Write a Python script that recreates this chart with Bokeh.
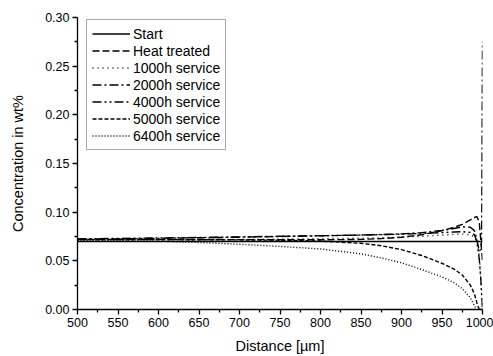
from bokeh.plotting import figure
from bokeh.models import Range1d, FixedTicker, NumeralTickFormatter, Legend, LegendItem
from bokeh.embed import file_html
from bokeh.resources import INLINE

distance = [500, 550, 600, 650, 700, 750, 800, 850, 875, 900, 925, 950, 965, 975, 985, 990, 993, 996, 998, 999, 1000]

start = [0.0698, 0.0698, 0.0698, 0.0698, 0.0698, 0.0698, 0.0698, 0.0698, 0.0698, 0.0698,
         0.0698, 0.0698, 0.0698, 0.0698, 0.0698, 0.0698, 0.0698, 0.0698, 0.0698, 0.0698, 0.0698]
heat_treated = [0.0720, 0.0720, 0.0720, 0.0719, 0.0718, 0.0717, 0.0716, 0.0720, 0.0728, 0.0742,
                0.0768, 0.0810, 0.0845, 0.0875, 0.0920, 0.0945, 0.0955, 0.0900, 0.0700, 0.0600, 0.0500]
s1000 = [0.0712, 0.0714, 0.0716, 0.0718, 0.0720, 0.0723, 0.0727, 0.0733, 0.0737, 0.0743,
         0.0752, 0.0765, 0.0772, 0.0775, 0.0768, 0.0745, 0.0700, 0.0550, 0.0300, 0.0150, 0.0000]
s2000 = [0.0722, 0.0726, 0.0731, 0.0737, 0.0743, 0.0750, 0.0757, 0.0765, 0.0770, 0.0777,
         0.0790, 0.0812, 0.0832, 0.0850, 0.0845, 0.0810, 0.0720, 0.0600, 0.0620, 0.0700, 0.2750]
s4000 = [0.0726, 0.0730, 0.0735, 0.0740, 0.0746, 0.0752, 0.0758, 0.0765, 0.0769, 0.0774,
         0.0781, 0.0790, 0.0796, 0.0800, 0.0792, 0.0770, 0.0700, 0.0520, 0.0300, 0.0150, 0.0000]
s5000 = [0.0718, 0.0718, 0.0718, 0.0717, 0.0715, 0.0712, 0.0703, 0.0680, 0.0655, 0.0615,
         0.0555, 0.0475, 0.0415, 0.0355, 0.0250, 0.0160, 0.0070, 0.0000, 0.0000, 0.0000, 0.0000]
s6400 = [0.0712, 0.0708, 0.0702, 0.0688, 0.0670, 0.0648, 0.0622, 0.0572, 0.0530, 0.0480,
         0.0410, 0.0335, 0.0275, 0.0215, 0.0120, 0.0040, 0.0000, 0.0000, 0.0000, 0.0000, 0.0000]

labels = ["Start", "Heat treated", "1000h service", "2000h service",
          "4000h service", "5000h service", "6400h service"]

x_ticks = [500, 550, 600, 650, 700, 750, 800, 850, 900, 950, 1000]
x_minor = [525, 575, 625, 675, 725, 775, 825, 875, 925, 975]
y_ticks = [0.0, 0.05, 0.10, 0.15, 0.20, 0.25, 0.30]
y_minor = [0.025, 0.075, 0.125, 0.175, 0.225, 0.275]

series = [start, heat_treated, s1000, s2000, s4000, s5000, s6400]
dashes = ["solid", "7 3", "1 4", "9 3 2 3", "9 3 2 3 2 3", "4 2", "1 2"]
widths = [1.6, 1.4, 1.4, 1.4, 1.4, 1.4, 1.4]

FONT = "Liberation Sans"

p = figure(width=493, height=356, output_backend="svg", toolbar_location=None,
           x_range=Range1d(500, 1000), y_range=Range1d(0, 0.30),
           min_border_left=77, min_border_right=11, min_border_top=17, min_border_bottom=44)
p.outline_line_color = None
p.grid.grid_line_color = None
p.background_fill_color = "white"
p.border_fill_color = "white"

renderers = []
for ys, dash, w in zip(series, dashes, widths):
    r = p.line(distance, ys, line_color="black", line_dash=dash, line_width=w)
    renderers.append(r)

p.xaxis.ticker = FixedTicker(ticks=x_ticks, minor_ticks=x_minor)
p.yaxis.ticker = FixedTicker(ticks=y_ticks, minor_ticks=y_minor)
p.yaxis.formatter = NumeralTickFormatter(format="0.00")

for ax in (p.xaxis[0], p.yaxis[0]):
    ax.axis_line_color = "black"
    ax.axis_line_width = 1.3
    ax.major_tick_line_color = "black"
    ax.minor_tick_line_color = "black"
    ax.major_tick_line_width = 1.3
    ax.minor_tick_line_width = 1.3
    ax.major_tick_in = 0
    ax.major_tick_out = 5
    ax.minor_tick_in = 0
    ax.minor_tick_out = 3
    ax.major_label_text_font = FONT
    ax.major_label_text_font_size = "12.5px"
    ax.major_label_text_color = "black"
    ax.axis_label_text_font = FONT
    ax.axis_label_text_font_size = "14.5px"
    ax.axis_label_text_font_style = "normal"
    ax.axis_label_text_color = "black"
    ax.major_label_standoff = 3

p.xaxis.axis_label = "Distance [µm]"
p.yaxis.axis_label = "Concentration in wt%"
p.xaxis.axis_label_standoff = 8
p.yaxis.axis_label_standoff = 16

legend = Legend(items=[LegendItem(label=l, renderers=[r]) for l, r in zip(labels, renderers)],
                location=(9, 159))
legend.label_text_font = FONT
legend.label_text_font_size = "14px"
legend.label_text_color = "black"
legend.border_line_color = "#555555"
legend.border_line_width = 1
legend.background_fill_alpha = 1
legend.padding = 5
legend.spacing = 0
legend.margin = 0
legend.glyph_width = 38
legend.glyph_height = 17
legend.label_height = 17
legend.label_standoff = 3
p.add_layout(legend, "center")

open("out.html", "w").write(file_html(p, INLINE))
